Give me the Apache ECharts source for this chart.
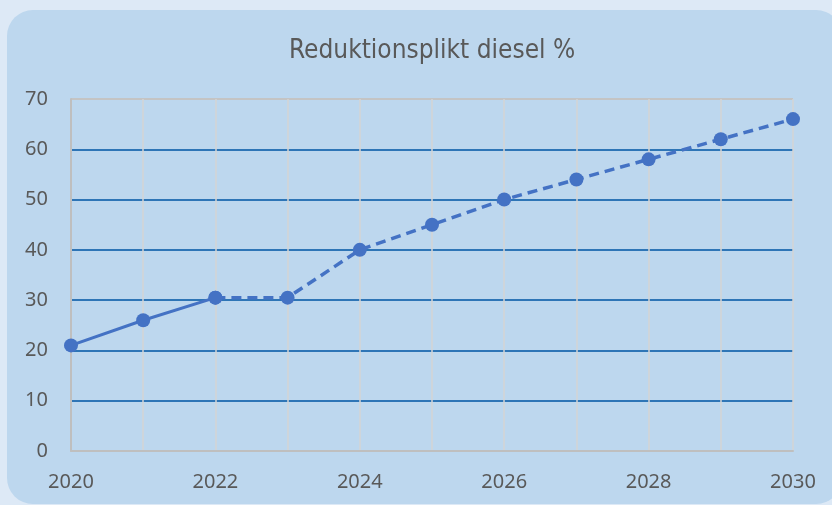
<!DOCTYPE html>
<html>
<head>
<meta charset="utf-8">
<script src="https://cdn.jsdelivr.net/npm/echarts@6/dist/echarts.min.js"></script>
<style>
html, body { margin: 0; padding: 0; background: #dde9f6; }
#chart { width: 832px; height: 505px; }
</style>
</head>
<body>
<div id="chart"></div>
<script>
// år och reduktionsplikt (%)
const years = ["2020", "2021", "2022", "2023", "2024", "2025", "2026", "2027", "2028", "2029", "2030"];
const actual = [21, 26, 30.5, "-", "-", "-", "-", "-", "-", "-", "-"];
const planned = ["-", "-", 30.5, 30.5, 40, 45, 50, 54, 58, 62, 66];

const chart = echarts.init(document.getElementById("chart"));

const lineColor = "#4472c4";

const option = {
	backgroundColor: "#dde9f6",
	animation: false,
	graphic: [
		{
			type: "rect",
			z: -10,
			shape: { x: 7, y: 10, width: 835, height: 494, r: 26 },
			style: { fill: "#bdd7ee" }
		}
	],
	title: {
		text: "Reduktionsplikt diesel %",
		left: 284,
		top: 33,
		textStyle: {
			fontFamily: "DejaVu Sans Condensed",
			fontWeight: "normal",
			fontSize: 26,
			color: "#595959"
		}
	},
	grid: {
		left: 71,
		right: 39,
		top: 99,
		bottom: 54,
		containLabel: false
	},
	xAxis: {
		type: "category",
		data: years,
		boundaryGap: false,
		axisLine: { lineStyle: { color: "#bfbfbf", width: 2 } },
		axisTick: { show: false },
		axisLabel: {
			interval: 1,
			margin: 21,
			fontFamily: "Noto Sans",
			fontSize: 20,
			color: "#595959"
		},
		splitLine: {
			show: true,
			interval: 0,
			lineStyle: { color: "#d4d4d4", width: 1.5 }
		}
	},
	yAxis: {
		type: "value",
		min: 0,
		max: 70,
		interval: 10,
		axisLine: { show: true, lineStyle: { color: "#bfbfbf", width: 2 } },
		axisTick: { show: false },
		axisLabel: {
			margin: 23,
			fontFamily: "Noto Sans",
			fontSize: 20,
			color: "#595959"
		},
		splitLine: {
			lineStyle: {
				color: ["#bfbfbf", "#2e75b6", "#2e75b6", "#2e75b6", "#2e75b6", "#2e75b6", "#2e75b6", "#c4c4c4"],
				width: 2
			}
		}
	},
	series: [
		{
			name: "Faktisk",
			type: "line",
			data: actual,
			symbol: "circle",
			symbolSize: 14,
			itemStyle: { color: lineColor },
			lineStyle: { color: lineColor, width: 3 },
			z: 3
		},
		{
			name: "Planerad",
			type: "line",
			data: planned,
			symbol: "circle",
			symbolSize: 14,
			itemStyle: { color: lineColor },
			lineStyle: { color: lineColor, width: 3.5, type: [10, 6] },
			z: 2
		}
	]
};

chart.setOption(option);
</script>
</body>
</html>
